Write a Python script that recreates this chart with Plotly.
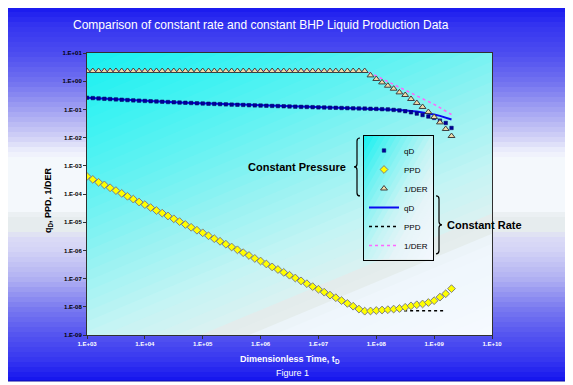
import plotly.graph_objects as go

# ---------------- data ----------------
log_t = [3.0, 3.1, 3.2, 3.3, 3.4, 3.5, 3.6, 3.7, 3.8, 3.9,
         4.0, 4.1, 4.2, 4.3, 4.4, 4.5, 4.6, 4.7, 4.8, 4.9,
         5.0, 5.1, 5.2, 5.3, 5.4, 5.5, 5.6, 5.7, 5.8, 5.9,
         6.0, 6.1, 6.2, 6.3, 6.4, 6.5, 6.6, 6.7, 6.8, 6.9,
         7.0, 7.1, 7.2, 7.3, 7.4, 7.5, 7.6, 7.7, 7.8, 7.9,
         8.0, 8.1, 8.2, 8.3, 8.4, 8.5, 8.6, 8.7, 8.8, 8.9,
         9.0, 9.1, 9.2, 9.3]
t_d = [10 ** v for v in log_t]

# constant pressure (markers)
qd_cp = [0.259, 0.252, 0.245, 0.238, 0.232, 0.226, 0.220, 0.214, 0.209, 0.204,
         0.200, 0.195, 0.191, 0.187, 0.183, 0.179, 0.175, 0.172, 0.169, 0.165,
         0.162, 0.159, 0.157, 0.154, 0.151, 0.148, 0.146, 0.144, 0.141, 0.139,
         0.137, 0.135, 0.133, 0.131, 0.129, 0.127, 0.125, 0.123, 0.122, 0.120,
         0.118, 0.117, 0.115, 0.114, 0.112, 0.111, 0.109, 0.108, 0.107, 0.105,
         0.104, 0.102, 0.100, 0.096, 0.092, 0.086, 0.079, 0.071, 0.063, 0.056,
         0.050, 0.040, 0.033, 0.022]
ppd_cp = [4.2e-4, 3.3e-4, 2.6e-4, 2.1e-4, 1.66e-4, 1.32e-4, 1.05e-4, 8.3e-5, 6.6e-5, 5.2e-5,
          4.2e-5, 3.3e-5, 2.6e-5, 2.1e-5, 1.66e-5, 1.32e-5, 1.05e-5, 8.3e-6, 6.6e-6, 5.2e-6,
          4.2e-6, 3.3e-6, 2.6e-6, 2.1e-6, 1.66e-6, 1.32e-6, 1.05e-6, 8.3e-7, 6.6e-7, 5.2e-7,
          4.2e-7, 3.3e-7, 2.6e-7, 2.1e-7, 1.66e-7, 1.32e-7, 1.05e-7, 8.3e-8, 6.6e-8, 5.2e-8,
          4.2e-8, 3.3e-8, 2.6e-8, 2.1e-8, 1.66e-8, 1.32e-8, 1.05e-8, 8.3e-9, 7.0e-9, 7.1e-9,
          7.4e-9, 7.7e-9, 7.9e-9, 8.3e-9, 8.7e-9, 9.6e-9, 1.08e-8, 1.18e-8, 1.26e-8, 1.42e-8,
          1.65e-8, 2.2e-8, 2.9e-8, 4.4e-8]
der_cp = [2.3, 2.3, 2.3, 2.3, 2.3, 2.3, 2.3, 2.3, 2.3, 2.3,
          2.3, 2.3, 2.3, 2.3, 2.3, 2.3, 2.3, 2.3, 2.3, 2.3,
          2.3, 2.3, 2.3, 2.3, 2.3, 2.3, 2.3, 2.3, 2.3, 2.3,
          2.3, 2.3, 2.3, 2.3, 2.3, 2.3, 2.3, 2.3, 2.3, 2.3,
          2.3, 2.3, 2.3, 2.3, 2.3, 2.3, 2.3, 2.3, 2.3, 1.61,
          1.20, 0.906, 0.692, 0.542, 0.401, 0.324, 0.234, 0.169, 0.122, 0.081,
          0.0537, 0.0346, 0.0202, 0.0114]

# constant rate (lines)
qd_cr = [0.259, 0.252, 0.245, 0.238, 0.232, 0.226, 0.220, 0.214, 0.209, 0.204,
         0.200, 0.195, 0.191, 0.187, 0.183, 0.179, 0.175, 0.172, 0.169, 0.165,
         0.162, 0.159, 0.157, 0.154, 0.151, 0.148, 0.146, 0.144, 0.141, 0.139,
         0.137, 0.135, 0.133, 0.131, 0.129, 0.127, 0.125, 0.123, 0.122, 0.120,
         0.118, 0.117, 0.115, 0.114, 0.112, 0.111, 0.109, 0.108, 0.107, 0.105,
         0.104, 0.103, 0.101, 0.098, 0.095, 0.092, 0.088, 0.084, 0.078, 0.073,
         0.066, 0.059, 0.052, 0.044]
ppd_cr = [4.2e-4, 3.3e-4, 2.6e-4, 2.1e-4, 1.66e-4, 1.32e-4, 1.05e-4, 8.3e-5, 6.6e-5, 5.2e-5,
          4.2e-5, 3.3e-5, 2.6e-5, 2.1e-5, 1.66e-5, 1.32e-5, 1.05e-5, 8.3e-6, 6.6e-6, 5.2e-6,
          4.2e-6, 3.3e-6, 2.6e-6, 2.1e-6, 1.66e-6, 1.32e-6, 1.05e-6, 8.3e-7, 6.6e-7, 5.2e-7,
          4.2e-7, 3.3e-7, 2.6e-7, 2.1e-7, 1.66e-7, 1.32e-7, 1.05e-7, 8.3e-8, 6.6e-8, 5.2e-8,
          4.2e-8, 3.3e-8, 2.6e-8, 2.1e-8, 1.66e-8, 1.32e-8, 1.05e-8, 8.3e-9, 7.2e-9, 7.2e-9,
          7.2e-9, 7.2e-9, 7.2e-9, 7.2e-9, 7.2e-9, 7.2e-9, 7.2e-9, 7.2e-9, 7.2e-9, 7.2e-9,
          7.2e-9, 7.2e-9, 7.2e-9]
der_cr = [2.3, 2.3, 2.3, 2.3, 2.3, 2.3, 2.3, 2.3, 2.3, 2.3,
          2.3, 2.3, 2.3, 2.3, 2.3, 2.3, 2.3, 2.3, 2.3, 2.3,
          2.3, 2.3, 2.3, 2.3, 2.3, 2.3, 2.3, 2.3, 2.3, 2.3,
          2.3, 2.3, 2.3, 2.3, 2.3, 2.3, 2.3, 2.3, 2.3, 2.3,
          2.3, 2.3, 2.3, 2.3, 2.3, 2.3, 2.3, 2.3, 2.3, 1.95,
          1.55, 1.22, 0.97, 0.77, 0.61, 0.48, 0.38, 0.30, 0.24, 0.19,
          0.15, 0.115, 0.088, 0.066]

x_tickvals = [1e3, 1e4, 1e5, 1e6, 1e7, 1e8, 1e9, 1e10]
x_ticktext = ["1.E+03", "1.E+04", "1.E+05", "1.E+06", "1.E+07", "1.E+08", "1.E+09", "1.E+10"]
y_tickvals = [1e1, 1e0, 1e-1, 1e-2, 1e-3, 1e-4, 1e-5, 1e-6, 1e-7, 1e-8, 1e-9]
y_ticktext = ["1.E+01", "1.E+00", "1.E-01", "1.E-02", "1.E-03", "1.E-04",
              "1.E-05", "1.E-06", "1.E-07", "1.E-08", "1.E-09"]

# ---------------- layout geometry (window pixel coords, page has 8px body margin) ----------------
W, H = 573, 385
OFF = 8
PL, PR, PT, PB = 87, 492, 53, 335      # plot area in window coords
ML, MT = PL - OFF, PT - OFF
MR, MB = W - (PR - OFF), H - (PB - OFF)
PW, PH = PR - PL, PB - PT
FONT = "Liberation Sans, Arial, sans-serif"


def px(x):
    return (x - PL) / PW


def py(y):
    return (PB - y) / PH


def hx(c):
    c = c.lstrip('#')
    return [int(c[i:i + 2], 16) for i in (0, 2, 4)]


def interp(stops, v):
    if v <= stops[0][0]:
        return hx(stops[0][1])
    for (a, ca), (b, cb) in zip(stops[:-1], stops[1:]):
        if a <= v <= b:
            f = (v - a) / (b - a) if b > a else 0
            A, Bc = hx(ca), hx(cb)
            return [round(A[i] + f * (Bc[i] - A[i])) for i in range(3)]
    return hx(stops[-1][1])


def rgb(c):
    return "rgb(%d,%d,%d)" % tuple(c)


def clip(poly, a, b, c):
    out = []
    n = len(poly)
    for i in range(n):
        P, Q = poly[i], poly[(i + 1) % n]
        fp = a * P[0] + b * P[1] - c
        fq = a * Q[0] + b * Q[1] - c
        if fp <= 0:
            out.append(P)
        if (fp < 0 < fq) or (fq < 0 < fp):
            tt = fp / (fp - fq)
            out.append((P[0] + tt * (Q[0] - P[0]), P[1] + tt * (Q[1] - P[1])))
    return out


def diag_bands(box, k, stops, smin, smax, step):
    """banded diagonal gradient inside box (x0,y0,x1,y1 window px); s = u - k*v."""
    bx0, by0, bx1, by1 = box
    out = []
    sq = [(0, 0), (1, 0), (1, 1), (0, 1)]
    s = smin
    while s < smax:
        s2 = s + step
        poly = clip(clip(sq, 1, -k, s2 + 0.012), -1, k, -s)
        if len(poly) >= 3:
            col = interp(stops, (s + s2) / 2)
            pts = []
            for (u, v) in poly:
                wx = bx0 + u * (bx1 - bx0)
                wy = by1 - v * (by1 - by0)
                pts.append("%.5f,%.5f" % (px(wx), py(wy)))
            out.append(dict(type="path", xref="paper", yref="paper", layer="below",
                            path="M " + " L ".join(pts) + " Z",
                            fillcolor=rgb(col), line=dict(width=0)))
        s = s2
    return out


shapes = []

# outer vertical banded gradient
outer_stops = [(2, '#1010EE'), (25, '#3434F0'), (53, '#4C4CF0'), (82, '#7272F0'),
               (110, '#A2A2F2'), (138, '#D2D2F6'), (152, '#EEF0FC'), (160, '#F4F8FC'),
               (212, '#F4F8FC'), (216, '#E6ECEE'), (232, '#E6ECEE'), (236, '#DCDCF6'),
               (250, '#D4D4F6'), (279, '#B0B0F2'), (307, '#7C7CF0'), (335, '#5454F0'),
               (359, '#3838F0'), (381, '#1414EE')]
y0 = 2
while y0 < 381:
    y1 = min(y0 + 5, 381)
    col = interp(outer_stops, (y0 + y1) / 2)
    shapes.append(dict(type="rect", xref="paper", yref="paper", layer="below",
                       x0=px(2), x1=px(569), y0=py(min(y1 + 1, 381)), y1=py(y0),
                       fillcolor=rgb(col), line=dict(width=0)))
    y0 = y1
shapes.append(dict(type="rect", xref="paper", yref="paper", layer="below",
                   x0=px(2), x1=px(569), y0=py(381), y1=py(2),
                   fillcolor="rgba(0,0,0,0)", line=dict(width=1, color="#0A0AA0")))

# plot area diagonal banded gradient
plot_stops = [(-1.67, '#18F0F0'), (-1.2, '#40F2F2'), (-0.8, '#68F2F2'), (-0.4, '#98F2F2'),
              (0.0, '#C4F4F4'), (0.25, '#D8F2F2'), (0.29, '#E2ECEC'), (0.40, '#E6EEEE'),
              (0.44, '#EEF6FC'), (1.0, '#F6FAFF')]
shapes += diag_bands((PL, PT, PR, PB), 1.67, plot_stops, -1.7, 1.0, 0.06)

# legend box (window px) – plotly legend measured size ~71 x 124
LG_X0, LG_Y0, LG_W, LG_H = 363, 135, 71, 124
legend_stops = [(-1.0, '#10F0F0'), (-0.5, '#70F2F2'), (0.0, '#C0F4F4'), (0.4, '#E6F4F8'),
                (1.0, '#F4F8FE')]
shapes += diag_bands((LG_X0, LG_Y0, LG_X0 + LG_W, LG_Y0 + LG_H), 1.0, legend_stops, -1.0, 1.0, 0.08)


def brace(xb, ytop, ybot, d):
    """curly brace; d=-1 -> '{' (points left), d=+1 -> '}' (points right)."""
    ym = (ytop + ybot) / 2
    c = 3
    pts = [
        ("M", [(xb - d * c, ytop)]),
        ("Q", [(xb, ytop), (xb, ytop + c)]),
        ("L", [(xb, ym - c)]),
        ("Q", [(xb, ym), (xb + d * c, ym)]),
        ("Q", [(xb, ym), (xb, ym + c)]),
        ("L", [(xb, ybot - c)]),
        ("Q", [(xb, ybot), (xb - d * c, ybot)]),
    ]
    path = " ".join(cmd + " " + " ".join("%.5f,%.5f" % (px(x), py(y)) for x, y in p)
                    for cmd, p in pts)
    return dict(type="path", xref="paper", yref="paper", layer="above", path=path,
                line=dict(color="black", width=1.2))


ITEM_TOP = LG_Y0 + 3
ITEM_H = 19.3
shapes.append(brace(LG_X0 - 6, ITEM_TOP, ITEM_TOP + 3 * ITEM_H, -1))
shapes.append(brace(LG_X0 + LG_W + 5, ITEM_TOP + 3 * ITEM_H, ITEM_TOP + 6 * ITEM_H, 1))

fig = go.Figure()

# lines (constant rate) drawn first, markers on top
fig.add_trace(go.Scatter(x=t_d, y=qd_cr, mode="lines", name="qD", legendrank=4,
                         line=dict(color="#0A0AF0", width=2)))
fig.add_trace(go.Scatter(x=t_d[:len(ppd_cr)], y=ppd_cr, mode="lines", name="PPD", legendrank=5,
                         line=dict(color="#000000", width=1.5, dash="3px,3px")))
fig.add_trace(go.Scatter(x=t_d, y=der_cr, mode="lines", name="1/DER", legendrank=6,
                         line=dict(color="#FF66FF", width=1.5, dash="dot")))
fig.add_trace(go.Scatter(x=t_d, y=qd_cp, mode="markers", name="qD", legendrank=1,
                         marker=dict(symbol="square", size=3.5, color="#000099",
                                     line=dict(width=0.5, color="#000060"))))
fig.add_trace(go.Scatter(x=t_d, y=ppd_cp, mode="markers", name="PPD", legendrank=2,
                         marker=dict(symbol="diamond", size=6, color="#FFFF00",
                                     line=dict(width=1, color="#808080"))))
fig.add_trace(go.Scatter(x=t_d, y=der_cp, mode="markers", name="1/DER", legendrank=3,
                         marker=dict(symbol="triangle-up", size=6, color="#F2DCA8",
                                     line=dict(width=1, color="#404040"))))

BR_MID_P = ITEM_TOP + 1.5 * ITEM_H
BR_MID_R = ITEM_TOP + 4.5 * ITEM_H
annotations = [
    dict(text="Comparison of constant rate and constant BHP Liquid Production Data",
         x=px(261), y=py(25), font=dict(size=12, color="white")),
    dict(text="<b>Dimensionless Time, t<sub>D</sub></b>", x=px(290), y=py(359),
         font=dict(size=9, color="white")),
    dict(text="Figure 1", x=px(292), y=py(373), font=dict(size=9, color="white")),
    dict(text="<b>q<sub>D</sub>, PPD, 1/DER</b>", x=px(49), y=py(200), textangle=-90,
         font=dict(size=9, color="black")),
    dict(text="<b>Constant Pressure</b>", x=px(LG_X0 - 15), y=py(BR_MID_P), xanchor="right",
         font=dict(size=11, color="black")),
    dict(text="<b>Constant Rate</b>", x=px(LG_X0 + LG_W + 11), y=py(BR_MID_R), xanchor="left",
         font=dict(size=11, color="black")),
]
for a in annotations:
    a.update(xref="paper", yref="paper", showarrow=False)
    a.setdefault("xanchor", "center")
    a.setdefault("yanchor", "middle")

fig.update_layout(
    width=W, height=H, margin=dict(l=ML, r=MR, t=MT, b=MB, autoexpand=False),
    paper_bgcolor="white", plot_bgcolor="rgba(0,0,0,0)",
    font=dict(family=FONT, size=8, color="black"),
    shapes=shapes, annotations=annotations,
    showlegend=True,
    legend=dict(x=px(LG_X0), y=py(LG_Y0), xanchor="left", yanchor="top",
                bgcolor="rgba(0,0,0,0)", bordercolor="black", borderwidth=1,
                font=dict(size=8, color="black"), itemwidth=30, tracegroupgap=0),
    xaxis=dict(type="log", range=[3, 10], tickvals=x_tickvals, ticktext=x_ticktext,
               showgrid=False, zeroline=False, showline=True, linecolor="#303030",
               mirror=True, ticks="outside", ticklen=3, tickcolor="#303030",
               tickfont=dict(size=6, color="white", weight="bold")),
    yaxis=dict(type="log", range=[-9, 1], tickvals=y_tickvals, ticktext=y_ticktext,
               showgrid=False, zeroline=False, showline=True, linecolor="#303030",
               mirror=True, ticks="outside", ticklen=3, tickcolor="#303030",
               tickfont=dict(size=6, color="black", weight="bold")),
)

fig.write_html("out.html")
